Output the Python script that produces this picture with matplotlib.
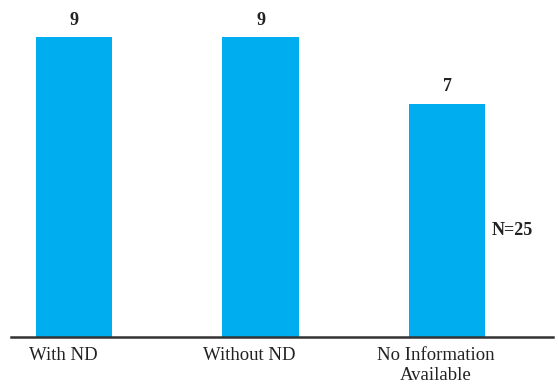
import matplotlib
matplotlib.use("Agg")
import matplotlib.pyplot as plt
import matplotlib.transforms as mtransforms
import numpy as np

categories = ["With ND", "Without ND", "No Information\nAvailable"]
counts = [9, 9, 7]
note = "N=25"

plt.rcParams['font.family'] = ['Liberation Serif', 'DejaVu Serif']

fig = plt.figure(figsize=(5.58, 3.85), dpi=100)
ax = fig.add_axes([11/558, 48/385, 542/558, 337/385])

x = np.arange(len(categories))
bars = ax.bar(x, counts, width=0.41, color='#00AEEF')

for b, v in zip(bars, counts):
    ax.annotate(str(v), (b.get_x() + b.get_width()/2, v), xytext=(0, 6),
                textcoords='offset points', ha='center', va='bottom',
                fontsize=13, fontweight='bold', color='#222222')

ax.text(x[-1] + 0.24, 3.2, note, fontsize=13, fontweight='bold',
        color='#222222', va='center', ha='left')

ax.set_xlim(-0.338, 2.568)
ax.set_ylim(0, 10.11)
ax.set_xticks(x)
ax.set_xticklabels(categories, fontsize=13.5, color='#222222', linespacing=1.25)
ax.tick_params(axis='x', length=0, pad=7)
ax.set_yticks([])
for s in ['top', 'right', 'left']:
    ax.spines[s].set_visible(False)
ax.spines['bottom'].set_color('#333333')
ax.spines['bottom'].set_linewidth(1.8)

offset = mtransforms.ScaledTranslation(-11/100, 0, fig.dpi_scale_trans)
for lbl in ax.get_xticklabels():
    lbl.set_transform(lbl.get_transform() + offset)

fig.savefig("out.png", dpi=100)
